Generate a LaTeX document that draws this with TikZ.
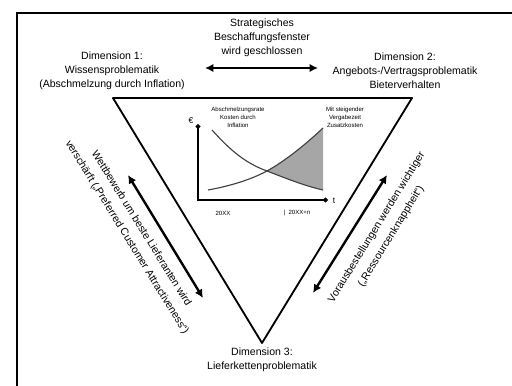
\documentclass[tikz,border=0pt]{standalone}
\usepackage{fontspec}
\setmainfont{Liberation Sans}
\usetikzlibrary{arrows.meta}

\begin{document}
\begin{tikzpicture}[
  x=0.025cm, y=-0.025cm,
  every node/.style={inner sep=1pt},
  lbl/.style={align=center, font=\fontsize{7.5}{10}\selectfont},
  side/.style={align=center, font=\fontsize{7.5}{12}\selectfont},
  small/.style={align=center, font=\fontsize{4.3}{5.6}\selectfont},
  edge/.style={draw, line width=1.3pt, line join=round},
  % the thick double arrows, and the chart's axes with dot ends
  darrow/.style={draw, line width=1.7pt, {Latex[length=6pt,width=6pt]}-{Latex[length=6pt,width=6pt]}},
  axis/.style={draw, line width=0.8pt, {Circle[length=3.5pt]}-{Circle[length=3.5pt]}},
  curve/.style={draw, line width=0.8pt, black!75}]

  \useasboundingbox (0,0) rectangle (512,386);
  \draw[line width=0.8pt] (512,13) -- (17,13) -- (17,386);

  % vertices
  \coordinate (tl) at (113,98);
  \coordinate (tr) at (412,98);
  \coordinate (bt) at (262,343);
  \draw[edge] (tl) -- (tr) -- (bt) -- cycle;

  % labels at the corners
  \node[lbl] (dim1) at (112,71) {Dimension 1:\\Wissensproblematik\\(Abschmelzung durch Inflation)};
  \node[lbl] (dim2) at (405,71) {Dimension 2:\\Angebots-/Vertragsproblematik\\Bieterverhalten};
  \node[lbl] (dim3) at (262,360) {Dimension 3:\\Lieferkettenproblematik};
  \node[lbl] (top) at (262,38) {Strategisches\\Beschaffungsfenster\\wird geschlossen};

  % arrows
  \coordinate (ta) at (205,68);
  \coordinate (tb) at (318,68);
  \coordinate (la) at (128,175);
  \coordinate (lb) at (203,298);
  \coordinate (ra) at (313,293);
  \coordinate (rb) at (387,175);
  \draw[darrow, line width=2pt] (ta) -- (tb);
  \draw[darrow] (la) -- (lb);
  \draw[darrow] (ra) -- (rb);

  % texts along the sides
  \node[side, rotate=-58.3] (ltxt) at (134,233) {Wettbewerb um beste Lieferanten wird\\verschärft („Preferred Customer Attractiveness“)};
  \node[side, rotate=58.4] (rtxt) at (384,232) {Vorausbestellungen werden wichtiger\\(„Ressourcenknappheit“)};

  % the small chart
  \coordinate (ytip) at (198,124);
  \coordinate (orig) at (198,200);
  \coordinate (xtip) at (328,200);
  \coordinate (cross) at (267,171);
  \fill[black!35] (cross) .. controls (285,161) and (305,145) .. (323,128)
    -- (323,190) .. controls (305,186) and (285,178) .. (cross);
  \draw[curve] (212,130) .. controls (230,150) and (245,163) .. (cross)
    .. controls (285,178) and (305,186) .. (323,190);
  \draw[curve] (208,190) .. controls (230,186) and (250,180) .. (cross)
    .. controls (285,161) and (305,145) .. (323,128);
  \draw[axis] (ytip) -- (orig) -- (xtip);
  \node[small, font=\fontsize{6}{7}\selectfont] (eur) at (191,121) {€};
  \node[small, font=\fontsize{6}{7}\selectfont] (t) at (334,201) {t};
  \node[small] (c1) at (238,117) {Abschmelzungsrate\\Kosten durch\\Inflation};
  \node[small] (c2) at (345,117) {Mit steigender\\Vergabezeit\\Zusatzkosten};
  \node[small] (y0) at (223,213) {20XX};
  \node[small] (y1) at (297,213) {|\ \ 20XX+n};
\end{tikzpicture}
\end{document}
